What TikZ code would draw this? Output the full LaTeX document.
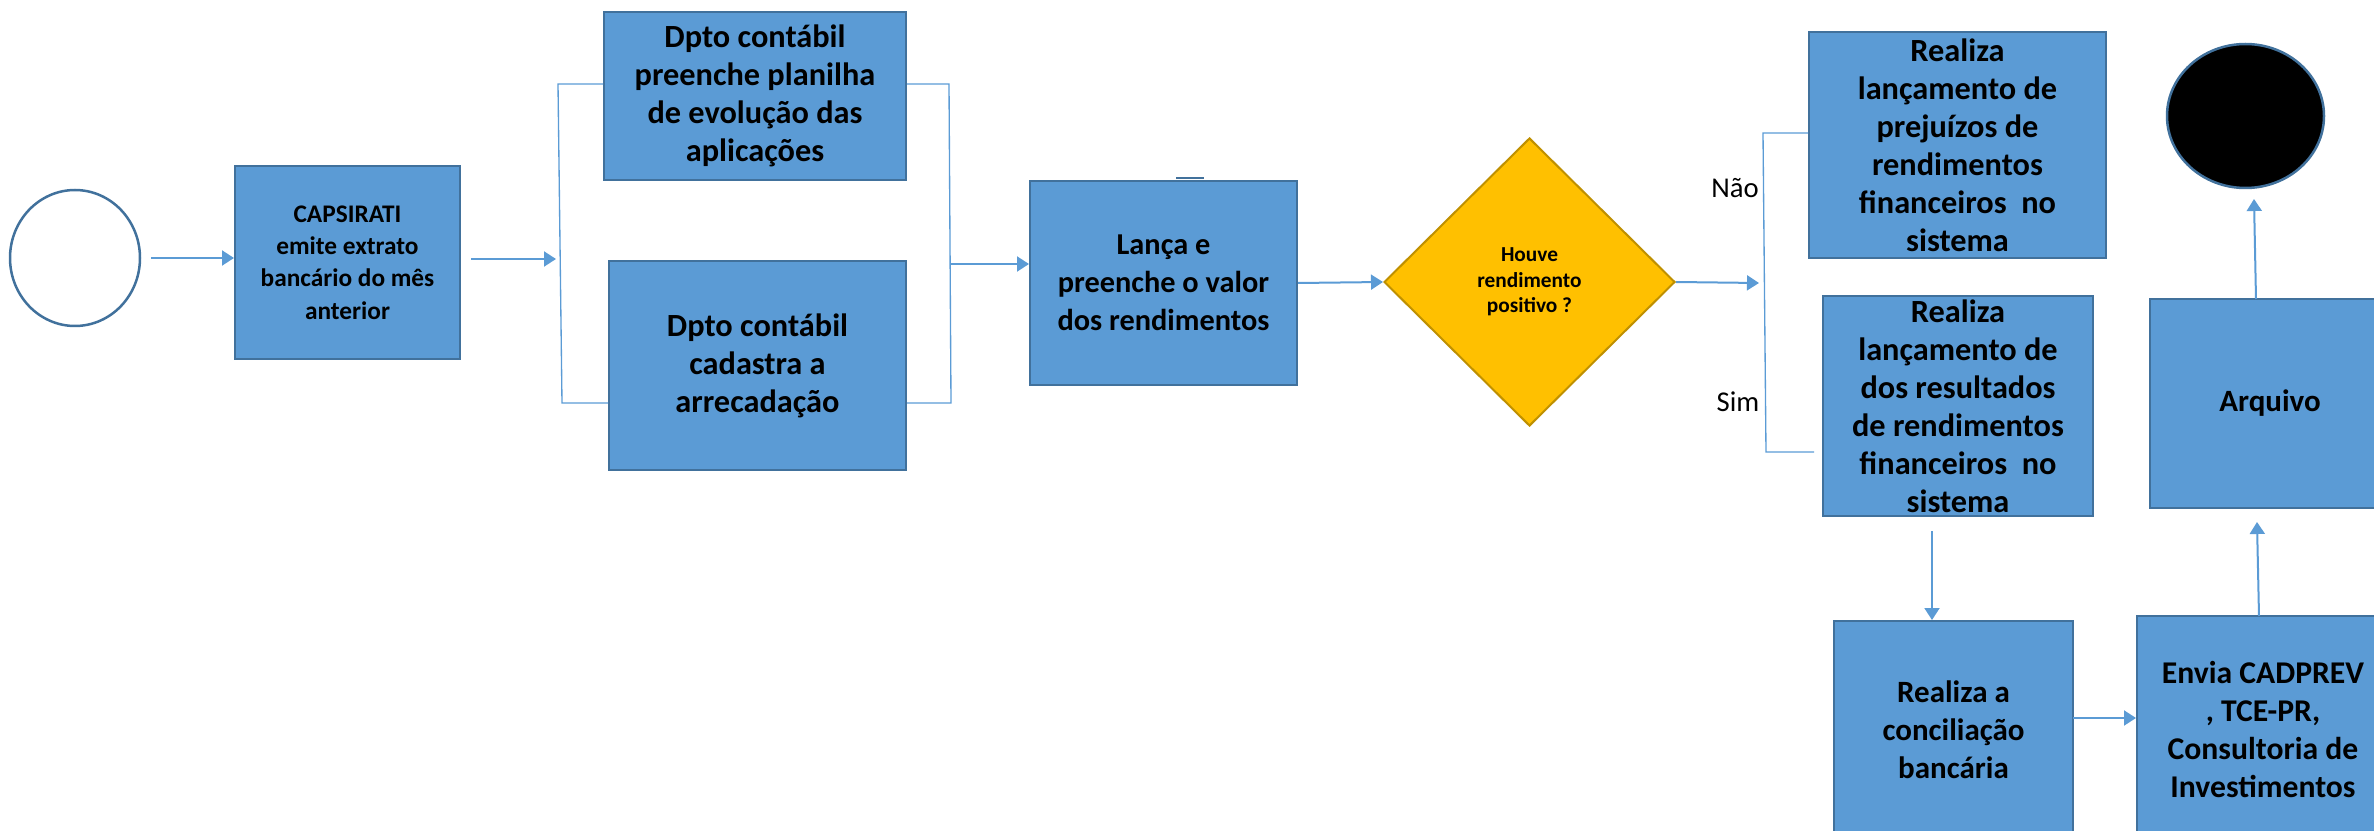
\documentclass[tikz,border=0pt]{standalone}
\usepackage{fontspec}
\setmainfont{Carlito}
\usetikzlibrary{shapes.geometric,arrows.meta}
\definecolor{boxfill}{HTML}{5B9BD5}
\definecolor{boxline}{HTML}{41719C}
\definecolor{decfill}{HTML}{FFC000}
\definecolor{decline}{HTML}{BF9000}
\definecolor{conn}{HTML}{5B9BD5}
\begin{document}
\begin{tikzpicture}[x=0.3pt,y=-0.3pt,
  proc/.style={rectangle, draw=boxline, fill=boxfill, line width=0.6pt, inner sep=0pt, align=center,
    font=\bfseries\fontsize{9.7}{11.4}\selectfont},
  procsm/.style={proc, font=\bfseries\fontsize{9.7}{11.4}\selectfont},
  arr/.style={draw=conn, line width=0.6pt, -{Triangle[length=3.6pt,width=4.5pt]}},
  brk/.style={draw=conn, line width=0.4pt},
  lbl/.style={inner sep=0pt, font=\fontsize{8.6}{10}\selectfont}
]
\useasboundingbox (0,0) rectangle (2374,831);
\clip (0,0) rectangle (2374,831);

% nodes
\node[ellipse, draw=boxline, line width=0.75pt, fill=white, minimum width=39pt, minimum height=40.8pt, inner sep=0pt] (start) at (75,258) {};
\node[proc, minimum width=67.5pt, minimum height=57.9pt, font=\bfseries\fontsize{7.6}{9.7}\selectfont] (capsi) at (347.5,262.5)
  {CAPSIRATI\\emite extrato\\bancário do mês\\anterior};
\node[proc, minimum width=90.6pt, minimum height=50.4pt] (dpto1) at (755,96)
  {Dpto contábil\\preenche planilha\\de evolução das\\aplicações};
\node[proc, minimum width=89.1pt, minimum height=62.7pt] (dpto2) at (757.5,365.5)
  {Dpto contábil\\cadastra a\\arrecadação};
\node[proc, minimum width=80.1pt, minimum height=61.2pt, font=\bfseries\fontsize{9.1}{11.4}\selectfont] (lanca) at (1163.5,283)
  {Lança e\\preenche o valor\\dos rendimentos};
\node[diamond, aspect=1, draw=decline, fill=decfill, line width=0.6pt, inner sep=0pt,
  minimum width=87.3pt, minimum height=86.4pt, align=center,
  font=\bfseries\fontsize{6.4}{7.65}\selectfont] (dec) at (1529.5,282)
  {Houve\\rendimento\\positivo ?};
\node[procsm, minimum width=89.1pt, minimum height=67.8pt] (prej) at (1957.5,145)
  {Realiza\\lançamento de\\prejuízos de\\rendimentos\\financeiros~ no\\sistema};
\node[procsm, minimum width=81pt, minimum height=66pt] (result) at (1958,406)
  {Realiza\\lançamento de\\dos resultados\\de rendimentos\\financeiros~ no\\sistema};
\node[ellipse, draw=boxline, line width=0.75pt, fill=black, minimum width=47.1pt, minimum height=43.2pt, inner sep=0pt] (endc) at (2245.5,116) {};
\node[proc, minimum width=72pt, minimum height=62.7pt, font=\bfseries\fontsize{9.3}{11.4}\selectfont] (arq) at (2270,403.5) {Arquivo};
\node[proc, minimum width=71.7pt, minimum height=65.4pt, font=\bfseries\fontsize{9.3}{11.4}\selectfont] (concil) at (1953.5,730)
  {Realiza a\\conciliação\\bancária};
\node[proc, minimum width=75.6pt, minimum height=68.4pt, font=\bfseries\fontsize{9.5}{11.4}\selectfont] (envia) at (2263,730)
  {Envia CADPREV\\, TCE-PR,\\Consultoria de\\Investimentos};

\node[lbl] (nao) at (1735,188) {Não};
\node[lbl] (sim) at (1738,402) {Sim};

% coordinates
\coordinate (lbt) at (558,84);
\coordinate (lbb) at (562,403);
\coordinate (lbm) at (556,259);
\coordinate (rbt) at (949,84);
\coordinate (rbb) at (951,403);
\coordinate (rbm) at (950,264);
\coordinate (dbt) at (1763,133);
\coordinate (dbb) at (1766,452);
\coordinate (dbe) at (1814,452);
\coordinate (dbm) at (1759,283);
\coordinate (dn) at (1932,531);
\coordinate (ce) at (2073,718);
\coordinate (up1) at (2259,616);
\coordinate (up1t) at (2257,522);
\coordinate (up2) at (2256,299);
\coordinate (up2t) at (2254,199);

% connectors
\draw[arr, shorten <=3pt] (start.east) -- (start.east -| capsi.west);
\draw[arr, shorten <=3pt] (capsi.east |- lbm) -- (lbm);
\draw[brk] (dpto1.west |- lbt) -- (lbt) -- (lbb) -- (dpto2.west |- lbb);
\draw[brk] (dpto1.east |- rbt) -- (rbt) -- (rbb) -- (dpto2.east |- rbb);
\draw[arr] (rbm) -- (lanca.west |- rbm);
\draw[boxline, line width=0.6pt] (1176,178) -- (1204,178);
\draw[arr] (lanca.east) -- (dec.west);
\draw[arr] (dec.east) -- (dbm);
\draw[brk] (prej.west |- dbt) -- (dbt) -- (dbb) -- (dbe);
\draw[arr] (dn) -- (dn |- concil.north);
\draw[arr] (ce) -- (envia.west |- ce);
\draw[arr] (up1) -- (up1t);
\draw[arr] (up2) -- (up2t);
\end{tikzpicture}
\end{document}
